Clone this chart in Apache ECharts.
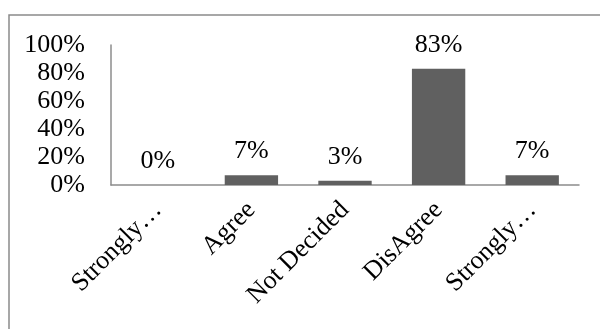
<!DOCTYPE html>
<html>
<head>
<meta charset="utf-8">
<script src="https://cdn.jsdelivr.net/npm/echarts@6/dist/echarts.min.js"></script>
<style>
html,body{margin:0;padding:0;background:#fff;}
#chart{width:600px;height:329px;}
</style>
</head>
<body>
<div id="chart"></div>
<script>
var categories = ['Strongly Agree', 'Agree', 'Not Decided', 'DisAgree', 'Strongly Disagree'];
var tickLabels = ['Strongly\u2026', 'Agree', 'Not Decided', 'DisAgree', 'Strongly\u2026'];
var values = [0, 7, 3, 83, 7];
var yTicks = [0, 20, 40, 60, 80, 100];

var FONT = '"Liberation Serif", "Times New Roman", serif';
var chart = echarts.init(document.getElementById('chart'), null, {renderer: 'canvas'});
chart.setOption({
  animation: false,
  backgroundColor: '#ffffff',
  graphic: [{
    type: 'rect',
    shape: {x: 9, y: 15, width: 600, height: 330},
    style: {fill: 'none', stroke: '#8a8a8a', lineWidth: 1.5},
    silent: true
  }],
  grid: {left: 111, right: 21, top: 45, bottom: 144, containLabel: false},
  xAxis: {
    type: 'category',
    data: categories,
    axisLine: {show: true, lineStyle: {color: '#8c8c8c', width: 1.5}},
    axisTick: {show: false},
    axisLabel: {
      interval: 0,
      rotate: 45,
      margin: 21,
      color: '#000',
      fontFamily: FONT,
      fontSize: 26,
      formatter: function (v, i) { return tickLabels[i]; }
    }
  },
  yAxis: {
    type: 'value',
    min: yTicks[0],
    max: yTicks[yTicks.length - 1],
    interval: 20,
    splitLine: {show: false},
    axisLine: {show: true, lineStyle: {color: '#8c8c8c', width: 1.5}},
    axisTick: {show: false},
    axisLabel: {
      margin: 26,
      color: '#000',
      fontFamily: FONT,
      fontSize: 26,
      formatter: '{value}%'
    }
  },
  series: [{
    type: 'bar',
    data: values,
    barWidth: '57%',
    itemStyle: {color: '#606060'},
    label: {
      show: true,
      position: 'top',
      distance: 11,
      color: '#000',
      fontFamily: FONT,
      fontSize: 26,
      formatter: '{c}%'
    }
  }]
});
</script>
</body>
</html>
